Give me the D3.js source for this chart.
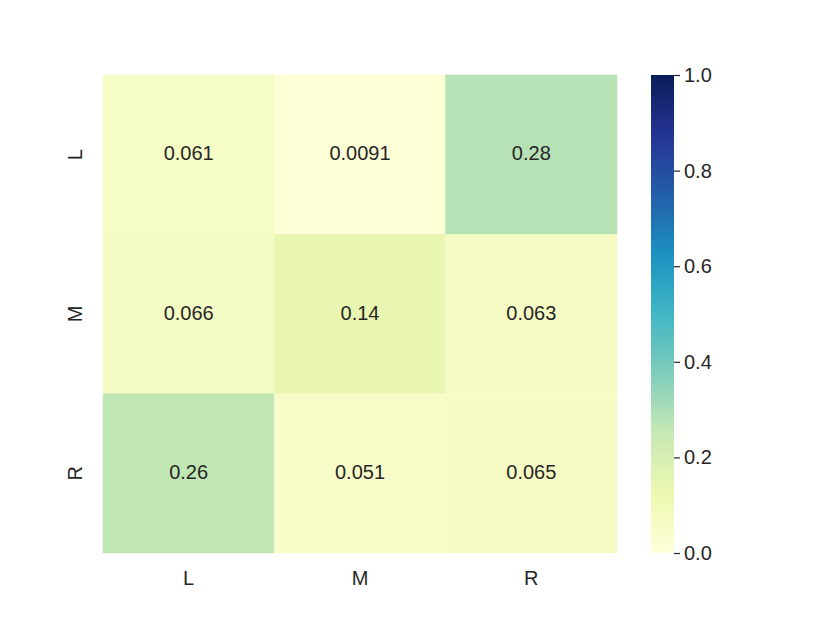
<!DOCTYPE html>
<html>
<head>
<meta charset="utf-8">
<script src="https://cdn.jsdelivr.net/npm/d3@7"></script>
<style>
html,body{margin:0;padding:0;background:#fff;}
text{font-family:"Liberation Sans",Arial,sans-serif;fill:#262626;}
</style>
</head>
<body>
<svg id="chart" width="830" height="623"></svg>
<script>
const rowLabels = ["L", "M", "R"];
const colLabels = ["L", "M", "R"];
const values = [
  [0.061, 0.0091, 0.28],
  [0.066, 0.14, 0.063],
  [0.26, 0.051, 0.065]
];
const colorbarTicks = [0.0, 0.2, 0.4, 0.6, 0.8, 1.0];
const ylgnbu = ["#ffffd9","#edf8b1","#c7e9b4","#7fcdbb","#41b6c4","#1d91c0","#225ea8","#253494","#081d58"];

(function () {
const svg = d3.select("#chart");
const pLeft = 103, pTop = 75, pRight = 617, pBottom = 553;
const fs = 20;
const x = d3.scaleBand().domain(colLabels).range([pLeft, pRight]);
const y = d3.scaleBand().domain(rowLabels).range([pTop, pBottom]);
const color = d3.scaleLinear()
  .domain(d3.range(ylgnbu.length).map(i => i / (ylgnbu.length - 1)))
  .range(ylgnbu).interpolate(d3.interpolateRgb).clamp(true);

const cells = [];
values.forEach((row, i) => row.forEach((v, j) => cells.push({r: rowLabels[i], c: colLabels[j], v})));

svg.append("g").selectAll("rect").data(cells).join("rect")
  .attr("x", d => x(d.c)).attr("y", d => y(d.r))
  .attr("width", x.bandwidth()).attr("height", y.bandwidth())
  .attr("fill", d => color(d.v))
  .attr("stroke", d => color(d.v)).attr("stroke-width", 0.5);

svg.append("g").selectAll("text").data(cells).join("text")
  .attr("x", d => x(d.c) + x.bandwidth() / 2)
  .attr("y", d => y(d.r) + y.bandwidth() / 2 - 1.5)
  .attr("text-anchor", "middle").attr("dominant-baseline", "central")
  .attr("font-size", fs)
  .text(d => String(d.v));

svg.append("g").selectAll("text").data(colLabels).join("text")
  .attr("x", d => x(d) + x.bandwidth() / 2)
  .attr("y", 578)
  .attr("text-anchor", "middle").attr("dominant-baseline", "central")
  .attr("font-size", fs)
  .text(d => d);

svg.append("g").selectAll("text").data(rowLabels).join("text")
  .attr("transform", d => `translate(75,${y(d) + y.bandwidth() / 2}) rotate(-90)`)
  .attr("text-anchor", "middle").attr("dominant-baseline", "central")
  .attr("font-size", fs)
  .text(d => d);

const cbX = 651, cbW = 23;
const cbScale = d3.scaleLinear().domain([0, 1]).range([pBottom, pTop]);
const defs = svg.append("defs");
const grad = defs.append("linearGradient").attr("id", "cbgrad")
  .attr("x1", 0).attr("y1", 1).attr("x2", 0).attr("y2", 0);
ylgnbu.forEach((c, i) => grad.append("stop")
  .attr("offset", i / (ylgnbu.length - 1)).attr("stop-color", c));
svg.append("rect").attr("x", cbX).attr("y", pTop)
  .attr("width", cbW).attr("height", pBottom - pTop)
  .attr("fill", "url(#cbgrad)");

const cbAxis = d3.axisRight(cbScale).tickValues(colorbarTicks)
  .tickFormat(d3.format(".1f")).tickSize(6).tickPadding(4);
const cbg = svg.append("g").attr("transform", `translate(${cbX + cbW},0)`).call(cbAxis);
cbg.select(".domain").remove();
cbg.selectAll(".tick line").attr("stroke", "#262626").attr("stroke-width", 1.2);
cbg.selectAll(".tick text").attr("font-size", fs)
  .attr("font-family", "Liberation Sans, Arial, sans-serif").attr("fill", "#262626");
})();
</script>
</body>
</html>
